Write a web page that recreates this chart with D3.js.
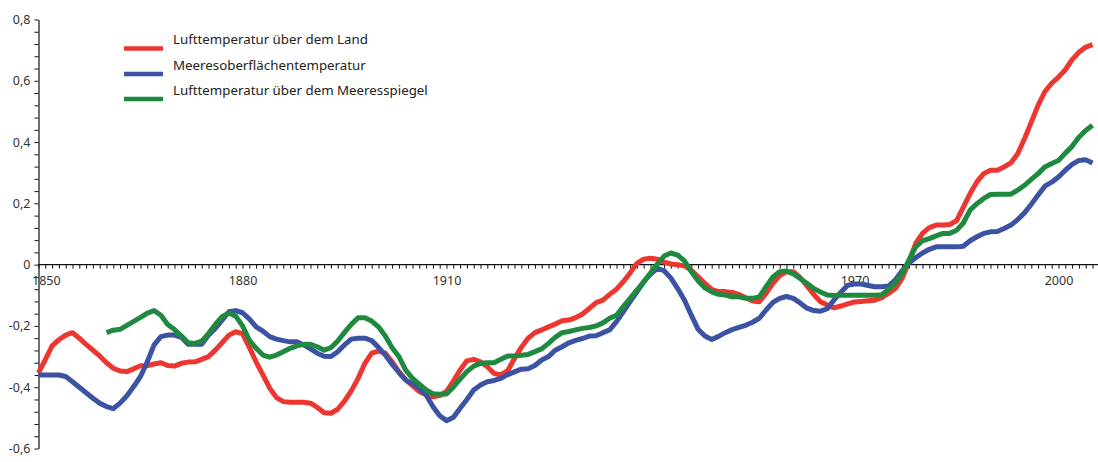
<!DOCTYPE html>
<html>
<head>
<meta charset="utf-8">
<script src="https://cdn.jsdelivr.net/npm/d3@7"></script>
<style>
  html, body { margin: 0; padding: 0; background: #fff; }
  svg { display: block; }
  text { font-family: "Noto Sans", "Open Sans", sans-serif; }
</style>
</head>
<body>
<svg id="chart" width="1098" height="462"></svg>
<script>
// Temperature anomalies (°C), smoothed yearly values
const landStart = 1850;
const landTemp = [
  -0.353,-0.31,-0.265,-0.245,-0.23,-0.222,-0.24,-0.26,-0.279,-0.298,
  -0.32,-0.338,-0.347,-0.349,-0.34,-0.33,-0.33,-0.324,-0.32,-0.329,
  -0.331,-0.322,-0.318,-0.317,-0.309,-0.30,-0.279,-0.255,-0.23,-0.219,
  -0.225,-0.27,-0.317,-0.36,-0.403,-0.434,-0.447,-0.449,-0.449,-0.449,
  -0.452,-0.466,-0.483,-0.485,-0.472,-0.445,-0.412,-0.371,-0.322,-0.289,
  -0.282,-0.289,-0.317,-0.349,-0.376,-0.395,-0.414,-0.425,-0.431,-0.427,
  -0.414,-0.381,-0.344,-0.314,-0.309,-0.317,-0.333,-0.355,-0.36,-0.346,
  -0.306,-0.27,-0.24,-0.222,-0.213,-0.203,-0.194,-0.183,-0.181,-0.173,
  -0.161,-0.143,-0.124,-0.116,-0.097,-0.08,-0.056,-0.027,0.004,0.018,
  0.021,0.018,0.008,0.002,0.0,-0.004,-0.018,-0.04,-0.061,-0.081,
  -0.088,-0.088,-0.091,-0.097,-0.108,-0.119,-0.121,-0.094,-0.061,-0.036,
  -0.023,-0.023,-0.042,-0.069,-0.097,-0.121,-0.132,-0.141,-0.135,-0.128,
  -0.122,-0.12,-0.118,-0.116,-0.108,-0.094,-0.078,-0.045,0.009,0.069,
  0.102,0.121,0.129,0.129,0.131,0.143,0.188,0.232,0.27,0.297,
  0.308,0.308,0.319,0.332,0.362,0.411,0.465,0.52,0.565,0.592,
  0.612,0.636,0.669,0.693,0.71,0.718
];

const seaStart = 1850;
const seaSurfaceTemp = [
  -0.36,-0.36,-0.36,-0.36,-0.365,-0.382,-0.40,-0.418,-0.436,-0.452,
  -0.463,-0.47,-0.452,-0.428,-0.398,-0.365,-0.317,-0.262,-0.235,-0.23,
  -0.23,-0.237,-0.26,-0.26,-0.26,-0.23,-0.208,-0.181,-0.154,-0.15,
  -0.157,-0.177,-0.203,-0.217,-0.235,-0.243,-0.248,-0.252,-0.252,-0.262,
  -0.275,-0.289,-0.299,-0.30,-0.284,-0.262,-0.243,-0.24,-0.24,-0.248,
  -0.27,-0.295,-0.325,-0.352,-0.377,-0.389,-0.403,-0.425,-0.463,-0.493,
  -0.509,-0.499,-0.469,-0.44,-0.409,-0.393,-0.382,-0.378,-0.371,-0.359,
  -0.35,-0.341,-0.34,-0.329,-0.311,-0.30,-0.279,-0.268,-0.255,-0.247,
  -0.241,-0.233,-0.232,-0.222,-0.213,-0.186,-0.154,-0.121,-0.089,-0.056,
  -0.031,-0.012,-0.02,-0.044,-0.078,-0.116,-0.165,-0.211,-0.233,-0.244,
  -0.234,-0.222,-0.212,-0.205,-0.198,-0.188,-0.175,-0.148,-0.123,-0.11,
  -0.104,-0.11,-0.125,-0.142,-0.15,-0.152,-0.144,-0.115,-0.09,-0.067,
  -0.063,-0.063,-0.068,-0.072,-0.072,-0.07,-0.05,-0.02,0.004,0.023,
  0.038,0.05,0.058,0.058,0.058,0.058,0.06,0.078,0.091,0.102,
  0.107,0.108,0.118,0.129,0.147,0.169,0.197,0.227,0.256,0.269,
  0.286,0.308,0.327,0.34,0.342,0.332
];

const marineAirStart = 1860;
const marineAirTemp = [
  -0.222,-0.214,-0.211,-0.198,-0.185,-0.172,-0.158,-0.15,-0.165,-0.195,
  -0.212,-0.232,-0.255,-0.257,-0.25,-0.225,-0.195,-0.17,-0.158,-0.168,
  -0.20,-0.246,-0.273,-0.295,-0.302,-0.295,-0.284,-0.273,-0.265,-0.26,
  -0.26,-0.268,-0.279,-0.271,-0.249,-0.221,-0.195,-0.173,-0.173,-0.184,
  -0.203,-0.233,-0.271,-0.30,-0.344,-0.371,-0.39,-0.409,-0.421,-0.423,
  -0.422,-0.40,-0.374,-0.349,-0.331,-0.322,-0.32,-0.32,-0.309,-0.298,
  -0.298,-0.296,-0.293,-0.284,-0.275,-0.257,-0.237,-0.222,-0.218,-0.213,
  -0.208,-0.205,-0.20,-0.19,-0.175,-0.165,-0.137,-0.11,-0.083,-0.056,
  -0.027,0.002,0.028,0.038,0.031,0.012,-0.023,-0.053,-0.076,-0.089,
  -0.097,-0.099,-0.105,-0.105,-0.11,-0.11,-0.105,-0.072,-0.04,-0.023,
  -0.021,-0.03,-0.045,-0.061,-0.078,-0.089,-0.099,-0.101,-0.10,-0.10,
  -0.10,-0.10,-0.10,-0.10,-0.098,-0.081,-0.059,-0.029,0.015,0.058,
  0.078,0.085,0.094,0.102,0.102,0.112,0.136,0.178,0.199,0.216,
  0.229,0.23,0.23,0.23,0.243,0.259,0.278,0.297,0.319,0.33,
  0.34,0.364,0.386,0.416,0.438,0.455
];

const seriesNames = [
  "Lufttemperatur über dem Land",
  "Meeresoberflächentemperatur",
  "Lufttemperatur über dem Meeresspiegel"
];
const seriesColors = ["#ee3631", "#3c52a3", "#1f8a3f"];

const xTickLabels = [1850, 1880, 1910, 1970, 2000];
const yTickLabels = [-0.6, -0.4, -0.2, 0, 0.2, 0.4, 0.6, 0.8];

// ---- layout
const W = 1098, H = 462;
const svg = d3.select("#chart");

const x = d3.scaleLinear().domain([1850, 2005]).range([38.5, 1092.5]);
const y = d3.scaleLinear().domain([-0.6, 0.8]).range([448.5, 19.5]);

const toPoints = (start, vals) => vals.map((v, i) => ({ year: start + i, value: v }));
const series = [
  toPoints(landStart, landTemp),
  toPoints(seaStart, seaSurfaceTemp),
  toPoints(marineAirStart, marineAirTemp)
];

// ---- y axis: minor ticks every 0.04, labels every 0.2
const yMinor = d3.range(-0.6, 0.8001, 0.04).map(v => +v.toFixed(2));
const fmtY = v => v === 0 ? "0" : v.toFixed(1).replace(".", ",");

const yAxisG = svg.append("g").attr("transform", `translate(${x(1850)},0)`);
yAxisG.call(d3.axisLeft(y).tickValues(yMinor).tickSize(4).tickSizeOuter(0).tickFormat(""));
yAxisG.call(g => g.select(".domain").attr("stroke", "#111").attr("stroke-width", 1.2));
yAxisG.selectAll(".tick line").attr("stroke", "#111");

const yLabelG = svg.append("g").attr("transform", `translate(${x(1850)},0)`)
  .call(d3.axisLeft(y).tickValues(yTickLabels).tickSize(0).tickPadding(8).tickFormat(fmtY));
yLabelG.select(".domain").remove();
yLabelG.selectAll("text")
  .attr("fill", "#333").style("font-size", "12.5px")
  .style("font-family", "'Noto Sans', sans-serif");

// ---- x axis at y = 0: yearly ticks, labels every few decades
const xMinor = d3.range(1850, 2009).filter(yr => x(yr) <= W);
const xAxisG = svg.append("g").attr("transform", `translate(0,${y(0)})`);
xAxisG.call(d3.axisBottom(x).tickValues(xMinor).tickSize(4).tickSizeOuter(0).tickFormat(""));
xAxisG.select(".domain").attr("d", `M${x(1850)},0H${W}`).attr("stroke", "#111").attr("stroke-width", 1.2);
xAxisG.selectAll(".tick line").attr("stroke", "#111");

const xLabelG = svg.append("g").attr("transform", `translate(0,${y(0)})`)
  .call(d3.axisBottom(x).tickValues(xTickLabels).tickSize(0).tickPadding(11).tickFormat(d3.format("d")));
xLabelG.select(".domain").remove();
xLabelG.selectAll("text")
  .attr("fill", "#333").style("font-size", "12.5px")
  .style("font-family", "'Noto Sans', sans-serif");
// the first year label sits just right of the vertical axis, clear of the "0" label
xLabelG.selectAll("text").filter(d => d === 1850)
  .attr("text-anchor", "start").attr("x", -7);

// ---- series lines
const line = d3.line().x(d => x(d.year)).y(d => y(d.value));
svg.append("g").selectAll("path")
  .data(series)
  .join("path")
  .attr("d", line)
  .attr("fill", "none")
  .attr("stroke", (d, i) => seriesColors[i])
  .attr("stroke-width", 5)
  .attr("stroke-linejoin", "round")
  .attr("stroke-linecap", "butt");

// ---- legend
const legend = svg.append("g").attr("transform", "translate(124,0)");
const rowY = [48.5, 74, 99];
seriesNames.forEach((name, i) => {
  legend.append("line")
    .attr("x1", 0).attr("x2", 39)
    .attr("y1", rowY[i]).attr("y2", rowY[i])
    .attr("stroke", seriesColors[i]).attr("stroke-width", 4.5);
  legend.append("text")
    .attr("x", 49).attr("y", rowY[i] - 4.5)
    .attr("fill", "#222")
    .style("font-size", "13.3px")
    .text(name);
});
</script>
</body>
</html>
